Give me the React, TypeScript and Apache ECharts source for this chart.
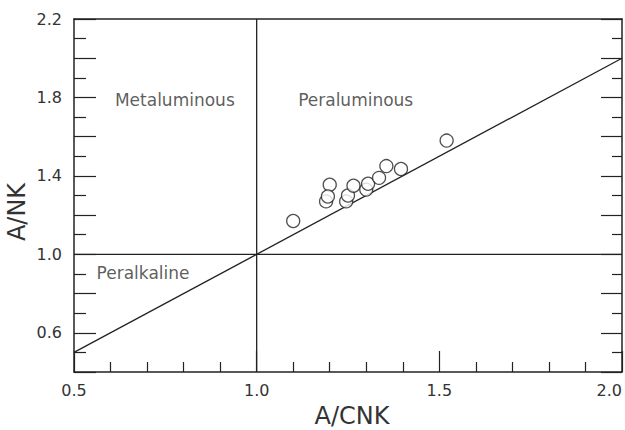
import React, { useEffect, useRef } from "react";
import * as echarts from "echarts";

const acnk = [1.1, 1.2, 1.19, 1.195, 1.245, 1.25, 1.265, 1.3, 1.305, 1.335, 1.355, 1.395, 1.52];
const ank = [1.17, 1.355, 1.27, 1.295, 1.27, 1.3, 1.35, 1.33, 1.36, 1.39, 1.45, 1.435, 1.58];

const xRange = [0.5, 2.0];
const yRange = [0.4, 2.2];
const yLabelValues = [0.6, 1.0, 1.4, 1.8, 2.2];
const xLabelValues = [0.5, 1.0, 1.5, 2.0];

const regionNames = ["Metaluminous", "Peraluminous", "Peralkaline"];
const regionX = [0.776, 1.271, 0.689];
const regionY = [1.786, 1.786, 0.905];

const FONT = "DejaVu Sans";
const INK = "#222";

export default function App() {
  const ref = useRef<HTMLDivElement>(null);
  useEffect(() => {
    if (!ref.current) return;
    document.body.style.margin = "0";
    const chart = echarts.init(ref.current, undefined, { renderer: "svg" });
    const near = (v: number, arr: number[]) => arr.some((a) => Math.abs(a - v) < 1e-6);
    const axisLine = { show: true, lineStyle: { color: INK, width: 1.5 } };
    chart.setOption({
      animation: false,
      backgroundColor: "#fff",
      grid: { left: 74, right: 3, top: 19, bottom: 58 },
      xAxis: [
        {
          type: "value",
          min: xRange[0],
          max: xRange[1],
          interval: 0.5,
          position: "bottom",
          axisLine,
          splitLine: { show: false },
          axisTick: { show: true, inside: true, length: 21, lineStyle: { color: INK, width: 1.2 } },
          minorTick: { show: true, splitNumber: 5, length: 10, lineStyle: { color: INK, width: 1.2 } },
          axisLabel: {
            margin: 10,
            fontFamily: FONT,
            fontSize: 16,
            color: "#333",
            alignMaxLabel: "right",
            formatter: (v: number) => (near(v, xLabelValues) ? v.toFixed(1) : ""),
          },
        },
        {
          type: "value",
          min: xRange[0],
          max: xRange[1],
          position: "top",
          axisLine,
          splitLine: { show: false },
          axisTick: { show: false },
          axisLabel: { show: false },
        },
      ],
      yAxis: [
        {
          type: "value",
          min: yRange[0],
          max: yRange[1],
          interval: 0.2,
          position: "left",
          axisLine,
          splitLine: { show: false },
          axisTick: { show: true, inside: true, length: 22, lineStyle: { color: INK, width: 1.2 } },
          minorTick: { show: true, splitNumber: 2, length: 12, lineStyle: { color: INK, width: 1.2 } },
          axisLabel: {
            margin: 12,
            fontFamily: FONT,
            fontSize: 16,
            color: "#333",
            formatter: (v: number) => (near(v, yLabelValues) ? v.toFixed(1) : ""),
          },
        },
        {
          type: "value",
          min: yRange[0],
          max: yRange[1],
          interval: 0.2,
          position: "right",
          axisLine,
          splitLine: { show: false },
          axisTick: { show: true, inside: true, length: 21, lineStyle: { color: INK, width: 1.2 } },
          minorTick: { show: true, splitNumber: 2, length: 10, lineStyle: { color: INK, width: 1.2 } },
          axisLabel: { show: false },
        },
      ],
      graphic: [
        {
          type: "text",
          x: 352,
          y: 416,
          style: { text: "A/CNK", font: `24px "${FONT}"`, fill: "#333", align: "center", verticalAlign: "middle" },
        },
        {
          type: "text",
          x: 17,
          y: 212,
          rotation: Math.PI / 2,
          style: { text: "A/NK", font: `24px "${FONT}"`, fill: "#333", align: "center", verticalAlign: "middle" },
        },
      ],
      series: [
        {
          type: "line",
          data: [
            [xRange[0], xRange[0]],
            [xRange[1], xRange[1]],
          ],
          symbol: "none",
          lineStyle: { color: INK, width: 1.3 },
          silent: true,
        },
        {
          type: "line",
          data: [
            [1.0, yRange[0]],
            [1.0, yRange[1]],
          ],
          symbol: "none",
          lineStyle: { color: INK, width: 1.3 },
          silent: true,
        },
        {
          type: "line",
          data: [
            [xRange[0], 1.0],
            [xRange[1], 1.0],
          ],
          symbol: "none",
          lineStyle: { color: INK, width: 1.3 },
          silent: true,
        },
        {
          type: "scatter",
          data: acnk.map((x, i) => [x, ank[i]]),
          symbol: "circle",
          symbolSize: 13,
          itemStyle: { color: "#fff", borderColor: INK, borderWidth: 1.3 },
          z: 5,
        },
        {
          type: "scatter",
          data: regionNames.map((n, i) => ({ value: [regionX[i], regionY[i]], name: n })),
          symbolSize: 0,
          label: {
            show: true,
            position: "inside",
            formatter: (p: any) => p.name,
            fontFamily: FONT,
            fontSize: 17,
            color: "#333",
          },
          silent: true,
        },
      ],
    });
    return () => chart.dispose();
  }, []);
  return <div ref={ref} style={{ width: 625, height: 430 }} />;
}
